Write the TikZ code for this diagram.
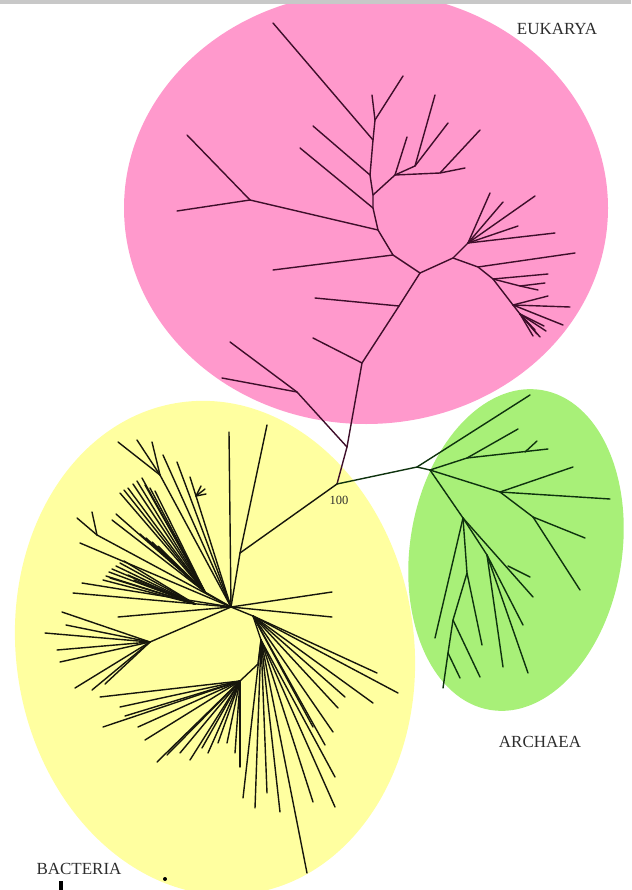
\documentclass[tikz,border=0pt]{standalone}
\usepackage{fontspec}
\setmainfont{Liberation Serif}
\definecolor{EukPink}{RGB}{255,153,204}
\definecolor{BacYellow}{RGB}{255,255,160}
\definecolor{ArcGreen}{RGB}{168,240,120}
\definecolor{EukDark}{RGB}{62,14,42}
\definecolor{ArcDark}{RGB}{14,50,14}
\definecolor{BacDark}{RGB}{22,22,12}
\definecolor{BarGrey}{RGB}{200,200,200}
\definecolor{LabelDark}{RGB}{45,45,45}
\begin{document}
\begin{tikzpicture}[x=1pt, y=-1pt,
    kingdom/.style={font=\fontsize{17}{17}\selectfont, text=LabelDark, inner sep=0pt},
    br/.style={line width=1.4pt, line cap=round, line join=round},
    eukbr/.style={br, draw=EukDark},
    arcbr/.style={br, draw=ArcDark},
    bacbr/.style={br, draw=BacDark}
  ]
    \path[use as bounding box] (0,0) rectangle (631,890);
    \clip (0,0) rectangle (631,890);

    % Domain ellipses
    \fill[EukPink] (366,208) ellipse [x radius=242, y radius=216];
    \fill[BacYellow, shift={(215,648)}, rotate=8] (0,0) ellipse [x radius=199, y radius=248];
    \fill[ArcGreen, shift={(516,550)}, rotate=-9] (0,0) ellipse [x radius=106, y radius=162];
    \fill[BarGrey] (0,0) rectangle (631,4.5);

    % Root
    \coordinate (root) at (337,484);
    \node[font=\fontsize{12.5}{12.5}\selectfont, text=LabelDark] (boot) at (339,500) {100};

    % Eukarya trunk
    \coordinate (e1) at (347,447);
    \coordinate (e2) at (362,363);
    \coordinate (e3) at (399,306);
    \coordinate (ej) at (420,273);
    \coordinate (e1a) at (297,392);
    \draw[eukbr] (root) -- (e1) -- (e2) -- (e3) -- (ej);
    \draw[eukbr] (e1) -- (e1a);
    \foreach \p [count=\i] in {(222,378),(230,342)}
      \draw[eukbr] (e1a) -- \p coordinate (e1a-\i);
    \draw[eukbr] (e2) -- (313,338) coordinate (e2-1);
    \draw[eukbr] (e3) -- (315,298) coordinate (e3-1);

    % Eukarya left subtree
    \coordinate (el0) at (393,255);
    \coordinate (el1) at (378,230);
    \coordinate (el2) at (373,208);
    \coordinate (el3) at (373,195);
    \coordinate (el4) at (370,175);
    \coordinate (el5) at (373,140);
    \coordinate (el6) at (375,120);
    \coordinate (eb) at (250,200);
    \draw[eukbr] (ej) -- (el0) -- (el1) -- (el2) -- (el3) -- (el4) -- (el5) -- (el6);
    \draw[eukbr] (el0) -- (273,270) coordinate (el0-1);
    \draw[eukbr] (el1) -- (eb);
    \foreach \p [count=\i] in {(177,211),(187,135)}
      \draw[eukbr] (eb) -- \p coordinate (eb-\i);
    \draw[eukbr] (el2) -- (300,148) coordinate (el2-1);
    \draw[eukbr] (el4) -- (313,126) coordinate (el4-1);
    \draw[eukbr] (el5) -- (273,23) coordinate (el5-1);
    \foreach \p [count=\i] in {(372,95),(403,76)}
      \draw[eukbr] (el6) -- \p coordinate (el6-\i);
    \coordinate (er1) at (395,175);
    \coordinate (er2) at (440,173);
    \coordinate (er3) at (415,166);
    \draw[eukbr] (el3) -- (er1) -- (er2) -- (465,168) coordinate (er2-1);
    \draw[eukbr] (er1) -- (407,137) coordinate (er1-1);
    \draw[eukbr] (er1) -- (er3);
    \foreach \p [count=\i] in {(435,95),(448,123)}
      \draw[eukbr] (er3) -- \p coordinate (er3-\i);
    \draw[eukbr] (er2) -- (480,130) coordinate (er2-2);

    % Eukarya right subtree
    \coordinate (erj) at (453,258);
    \coordinate (ef) at (468,243);
    \coordinate (eg1) at (478,267);
    \coordinate (eg2) at (493,279);
    \coordinate (eg2a) at (520,286);
    \coordinate (eg3) at (513,305);
    \coordinate (eg4) at (520,314);
    \draw[eukbr] (ej) -- (erj) -- (ef);
    \foreach \p [count=\i] in {(490,193),(503,202),(535,196),(518,226),(555,233)}
      \draw[eukbr] (ef) -- \p coordinate (ef-\i);
    \draw[eukbr] (erj) -- (eg1) -- (eg2) -- (eg3) -- (eg4);
    \draw[eukbr] (eg1) -- (575,253) coordinate (eg1-1);
    \draw[eukbr] (eg2) -- (548,274) coordinate (eg2-1);
    \draw[eukbr] (eg2) -- (eg2a) -- (538,290) coordinate (eg2-2);
    \draw[eukbr] (eg2a) -- (545,283) coordinate (eg2-3);
    \foreach \p [count=\i] in {(548,296),(570,307),(563,325)}
      \draw[eukbr] (eg3) -- \p coordinate (eg3-\i);
    \foreach \p [count=\i] in {(540,337),(544,326),(537,334),(533,336),(546,331),(535,330)}
      \draw[eukbr] (eg4) -- \p coordinate (eg4-\i);

    % Archaea
    \coordinate (a0) at (417,467);
    \coordinate (a1) at (430,470);
    \coordinate (a2) at (467,458);
    \coordinate (a2t) at (525,452);
    \coordinate (a3) at (500,492);
    \coordinate (a3b) at (533,517);
    \coordinate (a4) at (463,518);
    \coordinate (a6) at (467,573);
    \coordinate (a7) at (453,620);
    \coordinate (a8) at (448,653);
    \coordinate (a10) at (487,555);
    \coordinate (a11) at (508,566);
    \draw[arcbr] (root) -- (a0) -- (a1);
    \draw[arcbr] (a0) -- (530,395) coordinate (a0-1);
    \draw[arcbr] (a1) -- (a2);
    \foreach \p [count=\i] in {(518,429),(548,449)}
      \draw[arcbr] (a2) -- \p coordinate (a2-\i);
    \draw[arcbr] (a2t) -- (537,441) coordinate (a2t-1);
    \draw[arcbr] (a1) -- (a3) -- (a3b);
    \foreach \p [count=\i] in {(573,467),(610,499)}
      \draw[arcbr] (a3) -- \p coordinate (a3-\i);
    \foreach \p [count=\i] in {(585,538),(580,590)}
      \draw[arcbr] (a3b) -- \p coordinate (a3b-\i);
    \draw[arcbr] (a1) -- (a4);
    \draw[arcbr] (a4) -- (435,638) coordinate (a4-1);
    \draw[arcbr] (a4) -- (a6) -- (482,645) coordinate (a6-1);
    \draw[arcbr] (a6) -- (a7) -- (a8) -- (443,688) coordinate (a8-1);
    \draw[arcbr] (a7) -- (480,677) coordinate (a7-1);
    \draw[arcbr] (a8) -- (460,678) coordinate (a8-2);
    \draw[arcbr] (a4) -- (a10);
    \foreach \p [count=\i] in {(503,667),(523,625),(528,673)}
      \draw[arcbr] (a10) -- \p coordinate (a10-\i);
    \draw[arcbr] (a4) -- (533,597) coordinate (a4-2);
    \draw[arcbr] (a11) -- (530,577) coordinate (a11-1);

    % Bacteria trunk
    \coordinate (b0) at (240,553);
    \coordinate (bc) at (231,607);
    \draw[bacbr] (root) -- (b0) -- (bc);
    \draw[bacbr] (b0) -- (267,425) coordinate (b0-1);
    \draw[bacbr] (bc) -- (229,432) coordinate (bc-up);
    \foreach \p [count=\i] in {(332,592),(332,617)}
      \draw[bacbr] (bc) -- \p coordinate (bc-r\i);

    % Bacteria upper-left clades
    \coordinate (ba) at (160,475);
    \coordinate (bb) at (196,496);
    \coordinate (bc1) at (205,592);
    \coordinate (bd) at (97,535);
    \coordinate (bce) at (195,604);
    \draw[bacbr] (bc) -- (ba);
    \foreach \p [count=\i] in {(118,442),(137,440),(152,442)}
      \draw[bacbr] (ba) -- \p coordinate (ba-\i);
    \foreach \p [count=\i] in {(163,455),(177,462),(190,477)}
      \draw[bacbr] (bc) -- \p coordinate (bc-l\i);
    \foreach \p [count=\i] in {(201,486),(205,489),(206,494)}
      \draw[bacbr] (bb) -- \p coordinate (bb-\i);
    \draw[bacbr] (bc) -- (bc1);
    \foreach \p [count=\i] in {(120,493),(124,490),(128,488),(133,484),(137,481),(142,478),
        (145,485),(150,488),(155,491),(112,520),(116,514),(140,534),(146,538),(152,542),(158,546)}
      \draw[bacbr] (bc1) -- \p coordinate (bc1-\i);
    \draw[bacbr] (bc) -- (bd);
    \foreach \p [count=\i] in {(77,518),(92,512)}
      \draw[bacbr] (bd) -- \p coordinate (bd-\i);
    \draw[bacbr] (bc) -- (80,543) coordinate (bd-3);
    \foreach \p [count=\i] in {(82,583),(73,593),(118,617)}
      \draw[bacbr] (bc) -- \p coordinate (bce-l\i);
    \foreach \p [count=\i] in {(103,580),(106,576),(109,572),(112,569),(116,566),(120,563),
        (124,561),(110,578),(128,575),(134,580)}
      \draw[bacbr] (bce) -- \p coordinate (bce-\i);

    % Bacteria left fan
    \coordinate (bl) at (150,642);
    \draw[bacbr] (bc) -- (bl);
    \foreach \p [count=\i] in {(45,633),(62,612),(66,625),(57,650),(60,662),(75,688),(92,690),(105,684)}
      \draw[bacbr] (bl) -- \p coordinate (bl-\i);

    % Bacteria lower clades
    \coordinate (bk1) at (253,616);
    \coordinate (bk2) at (261,640);
    \coordinate (bk3) at (258,664);
    \coordinate (bk4) at (240,681);
    \draw[bacbr] (bc) -- (bk1) -- (bk2) -- (bk3) -- (bk4);
    \foreach \p [count=\i] in {(100,697),(103,727),(120,707),(125,716),(138,727),(145,740),
        (157,762),(167,755),(180,753),(190,760),(202,748),(208,753),(218,743),(227,743),
        (235,753),(240,767)}
      \draw[bacbr] (bk4) -- \p coordinate (bk4-\i);
    \foreach \p [count=\i] in {(243,798),(255,808),(267,793),(280,812),(313,802),(335,807),
        (335,777),(307,873)}
      \draw[bacbr] (bk2) -- \p coordinate (bk2-\i);
    \foreach \p [count=\i] in {(377,673),(398,693),(373,703),(345,697),(338,708),(333,732),
        (313,727),(325,745)}
      \draw[bacbr] (bk1) -- \p coordinate (bk1-\i);

    % Domain labels
    \node[kingdom] (euklabel) at (557,29) {EUKARYA};
    \node[kingdom] (arclabel) at (540,742) {ARCHAEA};
    \node[kingdom] (baclabel) at (79,869) {BACTERIA};

    % Cut-off marks at the lower edge
    \fill[black] (58.5,881) rectangle (62.5,891);
    \fill[black] (165,879) circle (2);
\end{tikzpicture}
\end{document}
